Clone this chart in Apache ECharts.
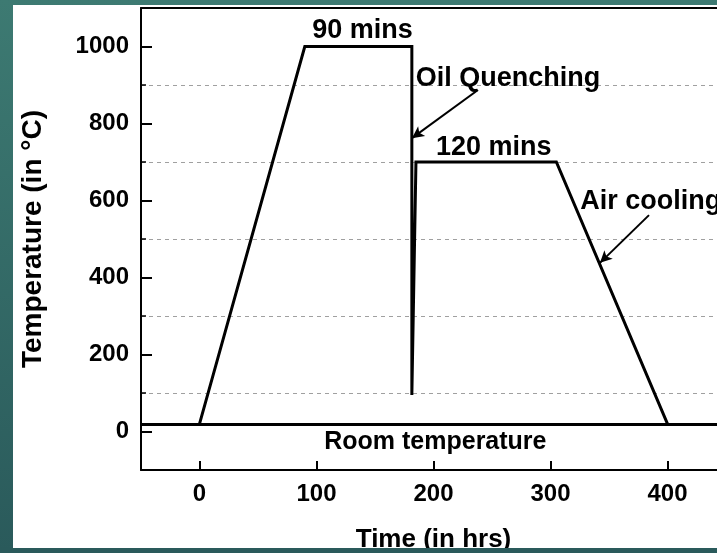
<!DOCTYPE html>
<html>
<head>
<meta charset="utf-8">
<script src="https://cdn.jsdelivr.net/npm/echarts@6/dist/echarts.min.js"></script>
<style>
html,body{margin:0;padding:0;background:#2f6663;}
#chart{width:717px;height:553px;}
</style>
</head>
<body>
<div id="chart"></div>
<script>
// ---- data ----
const timeHrs = [0, 90, 181.5, 181.5, 185, 305, 400];
const tempC = [20, 1000, 1000, 95, 700, 700, 20];
const roomTemp = 20;

const xTicks = [0, 100, 200, 300, 400];
const yTicks = [0, 200, 400, 600, 800, 1000];

const annotationTexts = ['90 mins', 'Oil Quenching', '120 mins', 'Air cooling', 'Room temperature'];
const annotationX = [139.3, 263.6, 251.5, 325.4, 201.6];
const annotationY = [1042, 916, 737, 598, -28];

const arrowFrom = [[238, 887], [384.2, 562]];
const arrowTo = [[181.6, 762], [342.3, 438]];

// ---- chart ----
const FONT = "'Liberation Sans', Arial, sans-serif";
const chart = echarts.init(document.getElementById('chart'), null, {renderer: 'canvas'});

const annData = annotationTexts.map((t, i) => ({
  name: t,
  value: [annotationX[i], annotationY[i]],
  label: t === 'Air cooling' ? {align: 'left'} : (t === 'Room temperature' ? {fontSize: 25} : {})
}));

const plain = v => String(v);

chart.setOption({
  animation: false,
  backgroundColor: {
    type: 'linear', x: 0, y: 0, x2: 0, y2: 1,
    colorStops: [{offset: 0, color: '#3d7a72'}, {offset: 1, color: '#2a5a5b'}]
  },
  graphic: [
    {type: 'rect', shape: {x: 13, y: 5, width: 704, height: 543}, style: {fill: '#ffffff'}, z: -10, silent: true},
    {type: 'rect', shape: {x: 0, y: 548, width: 717, height: 5}, style: {fill: '#2a5a5b'}, z: 100, zlevel: 1, silent: true}
  ],
  grid: {left: 141, top: 8, right: -9, bottom: 83, containLabel: false, outerBoundsMode: 'none'},
  xAxis: [
    {
      type: 'value', min: -50, max: 450, position: 'bottom',
      name: 'Time (in hrs)', nameLocation: 'middle', nameGap: 57,
      nameTextStyle: {fontFamily: FONT, fontWeight: 'bold', fontSize: 26, color: '#000'},
      axisLine: {show: true, onZero: false, lineStyle: {color: '#000', width: 2}},
      axisTick: {show: true, inside: true, length: 9, customValues: xTicks, lineStyle: {color: '#000', width: 2}},
      axisLabel: {show: true, customValues: xTicks, formatter: plain, margin: 12, fontFamily: FONT, fontWeight: 'bold', fontSize: 24, color: '#000'},
      splitLine: {show: false}
    },
    {
      type: 'value', min: -50, max: 450, position: 'top',
      axisLine: {show: true, onZero: false, lineStyle: {color: '#000', width: 2}},
      axisTick: {show: false}, axisLabel: {show: false}, splitLine: {show: false}
    }
  ],
  yAxis: [
    {
      type: 'value', min: -100, max: 1100, interval: 100, position: 'left',
      name: 'Temperature (in °C)', nameLocation: 'middle', nameGap: 94, nameRotate: 90,
      nameTextStyle: {fontFamily: FONT, fontWeight: 'bold', fontSize: 28, color: '#000'},
      axisLine: {show: true, onZero: false, lineStyle: {color: '#000', width: 2}},
      axisTick: {show: true, inside: true, length: 11, customValues: yTicks, lineStyle: {color: '#000', width: 2}},
      axisLabel: {show: true, customValues: yTicks, formatter: plain, margin: 12, fontFamily: FONT, fontWeight: 'bold', fontSize: 24, color: '#000'},
      splitLine: {show: false}
    },
    {
      type: 'value', min: -100, max: 1100, interval: 200, position: 'left', offset: 0,
      axisLine: {show: false, onZero: false},
      axisTick: {show: true, inside: true, length: 5, lineStyle: {color: '#000', width: 1.5}},
      axisLabel: {show: false},
      splitLine: {show: true, lineStyle: {color: '#a0a0a0', width: 1, type: [4, 4]}}
    }
  ],
  series: [
    {
      name: 'Heat treatment',
      type: 'line',
      xAxisIndex: 0, yAxisIndex: 0,
      data: timeHrs.map((t, i) => [t, tempC[i]]),
      symbol: 'none',
      lineStyle: {color: '#000', width: 3, join: 'miter'},
      silent: true,
      z: 5,
      markLine: {
        silent: true,
        symbol: ['none', 'none'],
        label: {show: false},
        lineStyle: {color: '#000', width: 3, type: 'solid'},
        data: [{yAxis: roomTemp}]
      }
    },
    {
      name: 'Annotations',
      type: 'scatter',
      xAxisIndex: 0, yAxisIndex: 0,
      data: annData,
      symbolSize: 0,
      silent: true,
      z: 6,
      itemStyle: {opacity: 1},
      label: {
        show: true, position: 'inside', formatter: '{b}', opacity: 1,
        textBorderWidth: 0, textShadowBlur: 0,
        fontFamily: FONT, fontWeight: 'bold', fontSize: 27, color: '#000'
      },
      markLine: {
        silent: true,
        symbol: ['none', 'arrow'],
        symbolSize: [9, 12],
        label: {show: false},
        lineStyle: {color: '#000', width: 2, type: 'solid', opacity: 1},
        data: arrowFrom.map((f, i) => [{coord: f}, {coord: arrowTo[i]}])
      }
    }
  ]
});
</script>
</body>
</html>
